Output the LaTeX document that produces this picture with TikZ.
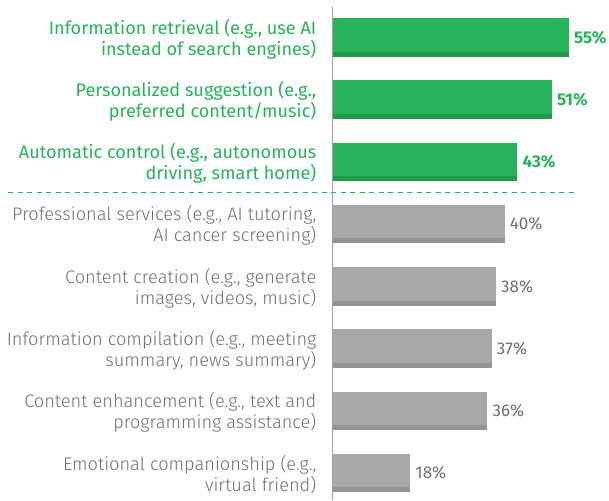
\documentclass[tikz,border=0pt]{standalone}
\usepackage{fontspec}
\setmainfont{Fira Sans}
\newfontfamily\lightf{Fira Sans Light}
\definecolor{grn}{HTML}{27B35A}
\definecolor{grndk}{HTML}{219A4C}
\definecolor{gry}{HTML}{A7A8AA}
\definecolor{grydk}{HTML}{939496}
\definecolor{gtxt}{HTML}{6E6F71}
\definecolor{axisc}{HTML}{A0A1A3}
\begin{document}
\begin{tikzpicture}[x=1pt,y=-1pt,
  lab/.style={anchor=east,align=right,inner sep=0pt,yshift=-1.5pt},
  gl/.style={lab,text=grn,font=\fontsize{18.1}{21}\selectfont},
  gyl/.style={lab,text=gtxt,font=\fontsize{18.2}{21}\selectfont\lightf},
  gp/.style={anchor=west,inner sep=0pt,text=grn,font=\fontsize{17}{18}\selectfont\bfseries},
  gyp/.style={anchor=west,inner sep=0pt,text=gtxt,font=\fontsize{17}{18}\selectfont}]
\useasboundingbox (0,0) rectangle (609,500);
\foreach \i/\v/\c/\d in {0/55/grn/grndk,1/51/grn/grndk,2/43/grn/grndk,3/40/gry/grydk,4/38/gry/grydk,5/37/gry/grydk,6/36/gry/grydk,7/18/gry/grydk}{
  \pgfmathsetmacro{\t}{18.3+62.2*\i}
  \pgfmathsetmacro{\r}{333+4.29*\v}
  \fill[\c] (333,\t) rectangle (\r,\t+38.5);
  \fill[\d] (333,\t+33.5) rectangle (\r,\t+38.5);
  \coordinate (b\i) at (\r,\t+19.25);
  \coordinate (l\i) at (316.5,\t+19.25);
}
\node[gl] (t0) at (l0) {Information retrieval (e.g., use AI\\instead of search engines)};
\node[gl] (t1) at (l1) {Personalized suggestion (e.g.,\\preferred content/music)};
\node[gl] (t2) at (l2) {Automatic control (e.g., autonomous\\driving, smart home)};
\node[gyl] (t3) at (l3) {Professional services (e.g., AI tutoring,\\AI cancer screening)};
\node[gyl] (t4) at (l4) {Content creation (e.g., generate\\images, videos, music)};
\node[gyl] (t5) at (l5) {Information compilation (e.g., meeting\\summary, news summary)};
\node[gyl] (t6) at (l6) {Content enhancement (e.g., text and\\programming assistance)};
\node[gyl] (t7) at (l7) {Emotional companionship (e.g.,\\virtual friend)};
\node[gp,xshift=5pt] (p0) at (b0) {55\%};
\node[gp,xshift=5pt] (p1) at (b1) {51\%};
\node[gp,xshift=5pt] (p2) at (b2) {43\%};
\node[gyp,xshift=5pt] (p3) at (b3) {40\%};
\node[gyp,xshift=5pt] (p4) at (b4) {38\%};
\node[gyp,xshift=5pt] (p5) at (b5) {37\%};
\node[gyp,xshift=5pt] (p6) at (b6) {36\%};
\node[gyp,xshift=5pt] (p7) at (b7) {18\%};
\coordinate (d0) at (8,192.7);
\coordinate (d1) at (577,192.7);
\draw[grn,line width=1.2pt,dash pattern=on 5pt off 4.5pt] (d0) -- (d1);
\coordinate (a0) at (332.7,7);
\coordinate (a1) at (332.7,500);
\draw[axisc,line width=1.5pt] (a0) -- (a1);
\end{tikzpicture}
\end{document}
